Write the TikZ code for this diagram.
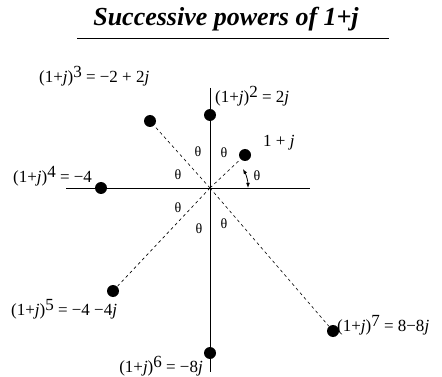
\documentclass[tikz,border=0pt]{standalone}
\usepackage{fontspec}
\setmainfont{Liberation Serif}
\usetikzlibrary{arrows.meta,positioning}

\newcommand{\pwr}[1]{(1+\textit{j})\raisebox{0.6ex}{#1}}

\begin{document}
\begin{tikzpicture}[x=1pt,y=-1pt,
    dot/.style={circle,fill=black,inner sep=0pt,minimum size=12pt},
    lbl/.style={font=\fontsize{17}{19}\selectfont,inner sep=1pt},
    ang/.style={font=\fontsize{14}{15}\selectfont,inner sep=0pt}]

    \useasboundingbox (0,0) rectangle (442,377);

    % title
    \node[font=\bfseries\itshape\fontsize{26}{30}\selectfont] (title) at (226,19)
        {Successive powers of 1+\textit{j}};
    \draw[line width=0.8pt] (77,38) -- (389,38);

    % axes
    \coordinate (O) at (210,188);
    \draw[line width=0.8pt] (66,188) -- (310,188);
    \draw[line width=0.8pt] (210,88) -- (210,372);

    % powers
    \node[dot] (p1) at (245,155) {};
    \node[dot] (p2) at (210,115) {};
    \node[dot] (p3) at (150,121) {};
    \node[dot] (p4) at (101,188) {};
    \node[dot] (p5) at (113,291) {};
    \node[dot] (p6) at (210,353) {};
    \node[dot] (p7) at (333,331) {};

    % rays
    \foreach \p in {p1,p2,p3,p4,p5,p6,p7} {
        \draw[dashed,line width=0.6pt] (O) -- (\p);
    }

    % angle arrow
    \draw[{Latex[length=5pt]}-{Latex[length=5pt]},line width=0.8pt]
        (248,188) arc[start angle=0,end angle=-30,radius=38];

    % theta labels
    \foreach \x/\y in {198/152,224/153,178/175,257/176,178/208,199/229,224/224} {
        \node[ang] at (\x,\y) {θ};
    }

    % value labels
    \node[lbl,anchor=west] (l1) at (262,143) {1 + \textit{j}};
    \node[lbl,anchor=west] (l2) at (214,96) {\pwr{2} = 2\textit{j}};
    \node[lbl,anchor=west] (l3) at (38,76) {\pwr{3} = −2 + 2\textit{j}};
    \node[lbl,anchor=west] (l4) at (12,176) {\pwr{4} = −4};
    \node[lbl,anchor=west] (l5) at (10,309) {\pwr{5} = −4 −4\textit{j}};
    \node[lbl,anchor=east] (l6) at (204,366) {\pwr{6} = −8\textit{j}};
    \node[lbl,anchor=west] (l7) at (336,325) {\pwr{7} = 8−8\textit{j}};

\end{tikzpicture}
\end{document}
